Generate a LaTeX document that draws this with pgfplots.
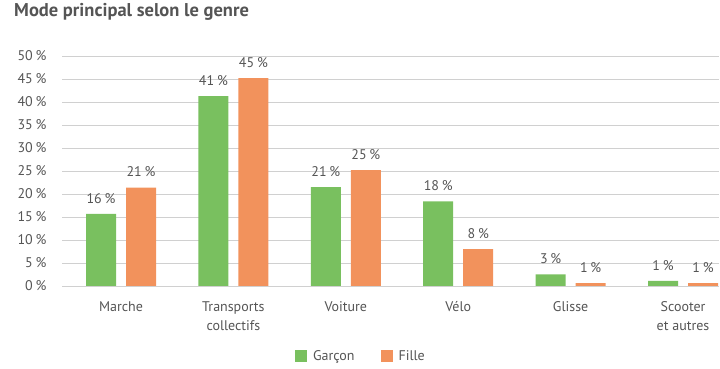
\documentclass[border=0pt]{standalone}
\usepackage{pgfplots}
\usepackage{pgfplotstable}
\pgfplotsset{compat=1.18}
\usepackage{fontspec}
\setmainfont{PT Sans}
\definecolor{cgreen}{RGB}{121,192,95}
\definecolor{corange}{RGB}{242,146,92}
\definecolor{ctext}{RGB}{85,85,85}
\definecolor{cgrid}{RGB}{208,208,208}
\pgfplotstableread{
x y m
0 15.7 16
1 41.3 41
2 21.5 21
3 18.4 18
4 2.5 3
5 1.1 1
}\garcon
\pgfplotstableread{
x y m
0 21.4 21
1 45.2 45
2 25.2 25
3 8.0 8
4 0.6 1
5 0.6 1
}\fille
\begin{document}
\begin{tikzpicture}[x=1pt,y=1pt]
\useasboundingbox (0,0) rectangle (720,369);
\node[anchor=base west, font=\fontsize{18.5}{20}\selectfont\bfseries, text=ctext, inner sep=0] at (14,352) {Mode principal selon le genre};
\begin{axis}[
  at={(62pt,83pt)}, anchor=south west,
  scale only axis, width=657pt, height=230pt,
  xmin=-0.525, xmax=5.32, ymin=0, ymax=50,
  ybar, bar width=30pt,
  ytick={0,5,...,50},
  xtick={0,...,5},
  xticklabels={Marche, {Transports\\collectifs}, Voiture, Vélo, Glisse, {Scooter\\et autres}},
  /pgf/number format/assume math mode=true,
  yticklabel={\pgfmathprintnumber{\tick}\hspace{0.2em}\%},
  yticklabel style={anchor=east, xshift=-12pt, font=\fontsize{14}{16}\selectfont, text=ctext},
  xticklabel style={align=center, anchor=north, yshift=-8pt, font=\fontsize{14}{19}\selectfont, text=ctext},
  axis line style={draw=none},
  tick style={draw=none},
  ymajorgrids, grid style={cgrid, line width=0.9pt},
  nodes near coords={\pgfmathprintnumber{\pgfplotspointmeta}\hspace{0.2em}\%},
  nodes near coords style={font=\fontsize{14}{16}\selectfont, text=ctext, anchor=south, yshift=7pt},
  point meta=explicit,
  legend style={at={(0.455,-0.304)}, anchor=center, draw=none, fill=none, legend columns=2,
    font=\fontsize{14}{16}\selectfont, text=ctext,
    /tikz/every odd column/.append style={column sep=4pt},
    /tikz/every even column/.append style={column sep=24pt}},
]
\addplot[fill=cgreen, draw=none, bar shift=-20pt,
  legend image code/.code={\fill[cgreen] (0pt,-6pt) rectangle (12pt,6pt);}]
  table[x=x, y=y, meta=m] {\garcon};
\addlegendentry{Garçon}
\addplot[fill=corange, draw=none, bar shift=20pt,
  legend image code/.code={\fill[corange] (0pt,-6pt) rectangle (12pt,6pt);}]
  table[x=x, y=y, meta=m] {\fille};
\addlegendentry{Fille}
\end{axis}
\end{tikzpicture}
\end{document}
